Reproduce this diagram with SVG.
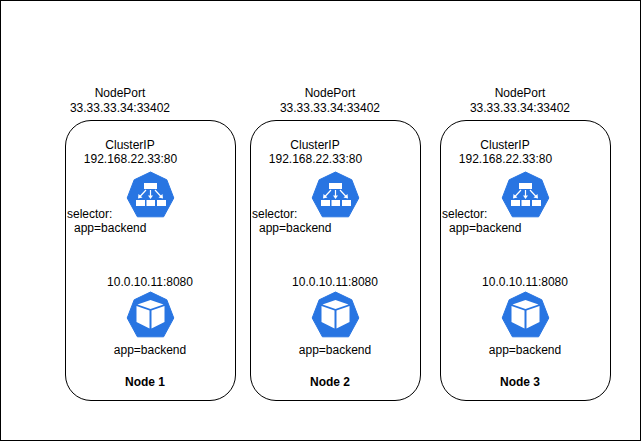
<svg xmlns="http://www.w3.org/2000/svg" width="641" height="441" viewBox="0 0 641 441">
<style>
text{font-family:"Liberation Sans",Arial,sans-serif;font-size:12px;fill:#000;text-anchor:middle}
.l{text-anchor:start}
.b{font-weight:bold}
.box{fill:#fff;stroke:#000;stroke-width:1}
.hex{fill:#2875e2;stroke:#2875e2;stroke-width:1;stroke-linejoin:round}
.w{fill:#fff}
.ar{fill:none;stroke:#fff;stroke-width:1.2}
</style>
<defs>
<g id="svc">
<path class="hex" d="M150.500 172 L166.800 179.800 L173.800 198 L163.600 216.800 L137.400 216.800 L127.200 198 L134.200 179.800 Z"/>
<rect class="w" x="144" y="183" width="13" height="6"/>
<rect class="w" x="136" y="200" width="9" height="6"/>
<rect class="w" x="146.500" y="200" width="8.500" height="6"/>
<rect class="w" x="157" y="200" width="9" height="6"/>
<path class="ar" d="M146 190 L140 196.500 M150.500 190 V197 M155 190 L161 196.500"/>
<path class="w" d="M138 198.500 L138.500 194 L142.500 197.500 Z M150.500 199 L148 195.500 H153 Z M163 198.500 L162.500 194 L158.500 197.500 Z"/>
</g>
<g id="pod">
<path class="hex" d="M150.500 292 L166.800 299.800 L173.800 318 L163.600 336.800 L137.400 336.800 L127.200 318 L134.200 299.800 Z"/>
<path class="w" d="M150.500 300 L163.500 304.500 L150.500 309 L137.500 304.500 Z"/>
<path class="w" d="M136.500 306 L149.500 310.500 V328.500 L136.500 322 Z"/>
<path class="w" d="M164.500 306 L151.500 310.500 V328.500 L164.500 322 Z"/>
</g>
</defs>
<rect id="frame" x="0.500" y="0.500" width="640" height="440" fill="#fff" stroke="#000"/>
<g id="connectors"/>
<g id="node1">
<rect class="box" x="65.500" y="120.500" width="170" height="280" rx="25.500" ry="25.500"/>
<text x="120" y="97">NodePort</text>
<text x="120" y="111.500">33.33.33.34:33402</text>
<text x="130" y="148.500">ClusterIP</text>
<text x="130.500" y="162.500">192.168.22.33:80</text>
<use href="#svc"/>
<text class="l" x="67" y="218">selector:</text>
<text class="l" x="74" y="232">app=backend</text>
<text x="150" y="285.500">10.0.10.11:8080</text>
<use href="#pod"/>
<text x="150" y="353.500">app=backend</text>
<text class="b" x="145" y="385.500">Node 1</text>
</g>
<g id="node2" transform="translate(185 0)">
<rect class="box" x="65.500" y="120.500" width="170" height="280" rx="25.500" ry="25.500"/>
<text x="145" y="97">NodePort</text>
<text x="145" y="111.500">33.33.33.34:33402</text>
<text x="130" y="148.500">ClusterIP</text>
<text x="130.500" y="162.500">192.168.22.33:80</text>
<use href="#svc"/>
<text class="l" x="67" y="218">selector:</text>
<text class="l" x="74" y="232">app=backend</text>
<text x="150" y="285.500">10.0.10.11:8080</text>
<use href="#pod"/>
<text x="150" y="353.500">app=backend</text>
<text class="b" x="145" y="385.500">Node 2</text>
</g>
<g id="node3" transform="translate(375 0)">
<rect class="box" x="65.500" y="120.500" width="170" height="280" rx="25.500" ry="25.500"/>
<text x="145" y="97">NodePort</text>
<text x="145" y="111.500">33.33.33.34:33402</text>
<text x="130" y="148.500">ClusterIP</text>
<text x="130.500" y="162.500">192.168.22.33:80</text>
<use href="#svc"/>
<text class="l" x="67" y="218">selector:</text>
<text class="l" x="74" y="232">app=backend</text>
<text x="150" y="285.500">10.0.10.11:8080</text>
<use href="#pod"/>
<text x="150" y="353.500">app=backend</text>
<text class="b" x="145" y="385.500">Node 3</text>
</g>
</svg>
